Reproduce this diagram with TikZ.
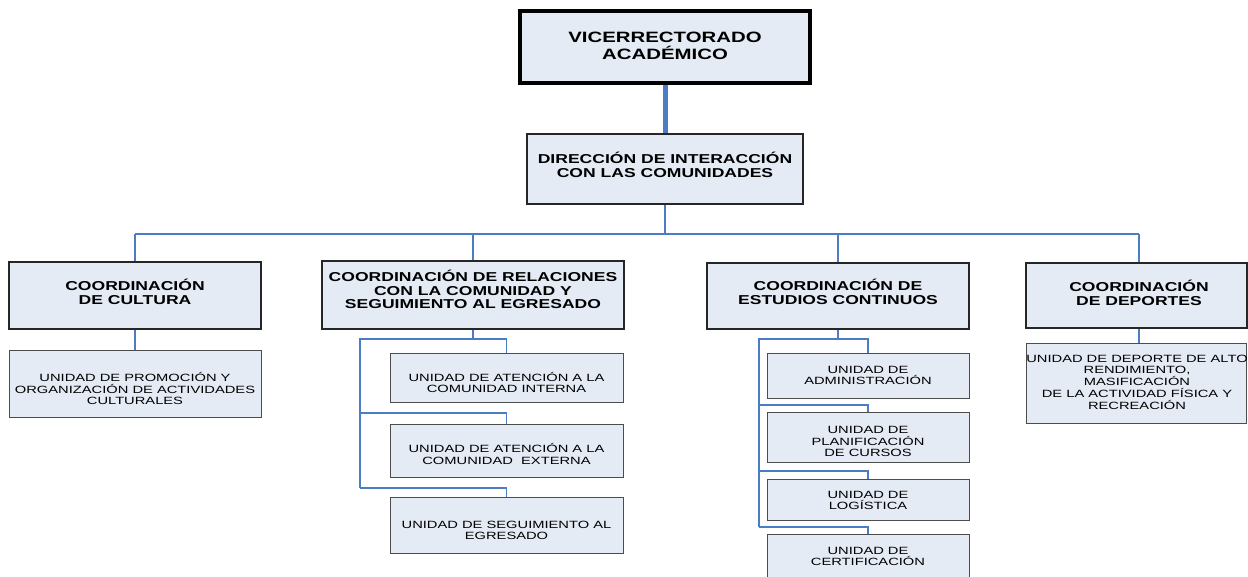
\documentclass[tikz,border=0pt]{standalone}
\usepackage{fontspec}
\setmainfont{Liberation Sans}
\newfontfamily\boldf[FakeStretch=1.36]{Liberation Sans Bold}
\newfontfamily\regf[FakeStretch=1.4]{Liberation Sans}
\definecolor{boxfill}{HTML}{E5EBF5}
\definecolor{linkblue}{HTML}{4A7DC4}
\begin{document}
\begin{tikzpicture}[x=1pt,y=-1pt,
  boxbase/.style={rectangle,inner sep=0pt,fill=boxfill},
  boxtop/.style={boxbase,draw=black,line width=4pt},
  boxmid/.style={boxbase,draw=black!85,line width=1.5pt},
  boxunit/.style={boxbase,draw=black!70,line width=1pt},
  ttop/.style={align=center,inner sep=0pt,font=\boldf\fontsize{15}{16.7}\selectfont},
  tmid/.style={align=center,inner sep=0pt,font=\boldf\fontsize{12.9}{13.8}\selectfont},
  tunit/.style={align=center,inner sep=0pt,font=\regf\fontsize{10.5}{11.7}\selectfont},
  conn/.style={draw=linkblue,line width=1.8pt},
  connthick/.style={draw=linkblue,line width=5pt}]
\useasboundingbox (0,0) rectangle (1248,576);
\clip (0,0) rectangle (1248,576);
\fill[white] (0,0) rectangle (1248,576);

% boxes
\node[boxtop,minimum width=290pt,minimum height=72pt] (vic) at (665,47) {};
\node[boxmid,minimum width=276pt,minimum height=70pt] (dir) at (665,169) {};
\node[boxmid,minimum width=252pt,minimum height=67pt] (cul) at (135,295.5) {};
\node[boxmid,minimum width=302pt,minimum height=68pt] (rel) at (473,295) {};
\node[boxmid,minimum width=262pt,minimum height=66pt] (est) at (838,296) {};
\node[boxmid,minimum width=221pt,minimum height=65pt] (dep) at (1136.5,295.5) {};
\node[boxunit,minimum width=252pt,minimum height=67pt] (ucul) at (135,383.5) {};
\node[boxunit,minimum width=233pt,minimum height=49pt] (uint) at (506.5,377.5) {};
\node[boxunit,minimum width=233pt,minimum height=53pt] (uext) at (506.5,450.5) {};
\node[boxunit,minimum width=233pt,minimum height=56pt] (useg) at (506.5,525) {};
\node[boxunit,minimum width=202pt,minimum height=45pt] (uadm) at (868,375.5) {};
\node[boxunit,minimum width=202pt,minimum height=50pt] (upla) at (868,437) {};
\node[boxunit,minimum width=202pt,minimum height=41pt] (ulog) at (868,499.5) {};
\node[boxunit,minimum width=202pt,minimum height=52pt] (ucer) at (868,560) {};
\node[boxunit,minimum width=220pt,minimum height=80pt] (udep) at (1136,383) {};

% texts
\node[ttop] (vicT) at (665,45.5) {VICERRECTORADO\\ACADÉMICO};
\node[tmid] (dirT) at (665,165) {DIRECCIÓN DE INTERACCIÓN\\CON LAS COMUNIDADES};
\node[tmid] (culT) at (135,291.5) {COORDINACIÓN\\DE CULTURA};
\node[tmid] (relT) at (473,289.5) {COORDINACIÓN DE RELACIONES\\CON LA COMUNIDAD Y\\SEGUIMIENTO AL EGRESADO};
\node[tmid] (estT) at (838,291.5) {COORDINACIÓN DE\\ESTUDIOS CONTINUOS};
\node[tmid] (depT) at (1139,293) {COORDINACIÓN\\DE DEPORTES};
\node[tunit] (uculT) at (135,388.5) {UNIDAD DE PROMOCIÓN Y\\ORGANIZACIÓN DE ACTIVIDADES\\CULTURALES};
\node[tunit] (uintT) at (506.5,382.5) {UNIDAD DE ATENCIÓN A LA\\COMUNIDAD INTERNA};
\node[tunit] (uextT) at (506.5,454) {UNIDAD DE ATENCIÓN A LA\\COMUNIDAD\ \ EXTERNA};
\node[tunit] (usegT) at (506.5,530.5) {UNIDAD DE SEGUIMIENTO AL\\EGRESADO};
\node[tunit] (uadmT) at (868,375.5) {UNIDAD DE\\ADMINISTRACIÓN};
\node[tunit] (uplaT) at (868,441.5) {UNIDAD DE\\PLANIFICACIÓN\\DE CURSOS};
\node[tunit] (ulogT) at (868,500.5) {UNIDAD DE\\LOGÍSTICA};
\node[tunit] (ucerT) at (868,556.5) {UNIDAD DE\\CERTIFICACIÓN};
\node[tunit] (udepT) at (1137,382) {UNIDAD DE DEPORTE DE ALTO\\RENDIMIENTO,\\MASIFICACIÓN\\DE LA ACTIVIDAD FÍSICA Y\\RECREACIÓN};

% connectors
\draw[connthick] (vic.south) -- (dir.north);
\coordinate (bus) at (665,234);
\coordinate (depbus) at (1139,234);
\draw[conn] (dir.south) -- (bus);
\draw[conn] (cul.north |- bus) -- (depbus);
\draw[conn] (cul.north |- bus) -- (cul.north);
\draw[conn] (rel.north |- bus) -- (rel.north);
\draw[conn] (est.north |- bus) -- (est.north);
\draw[conn] (depbus) -- (depbus |- dep.north);
\draw[conn] (cul.south) -- (ucul.north);
\draw[conn] (dep.south -| depbus) -- (depbus |- udep.north);

% relaciones branch
\coordinate (rt) at (360,339);
\coordinate (rm) at (360,413);
\coordinate (rb) at (360,488);
\draw[conn] (rel.south) |- (rt) -- (rb);
\draw[conn] (rt) -| (uint.north);
\draw[conn] (rm) -| (uext.north);
\draw[conn] (rb) -| (useg.north);

% estudios branch
\coordinate (et) at (759,339);
\coordinate (e2) at (759,405);
\coordinate (e3) at (759,471);
\coordinate (eb) at (759,527);
\draw[conn] (est.south) |- (et) -- (eb);
\draw[conn] (et) -| (uadm.north);
\draw[conn] (e2) -| (upla.north);
\draw[conn] (e3) -| (ulog.north);
\draw[conn] (eb) -| (ucer.north);
\end{tikzpicture}
\end{document}
